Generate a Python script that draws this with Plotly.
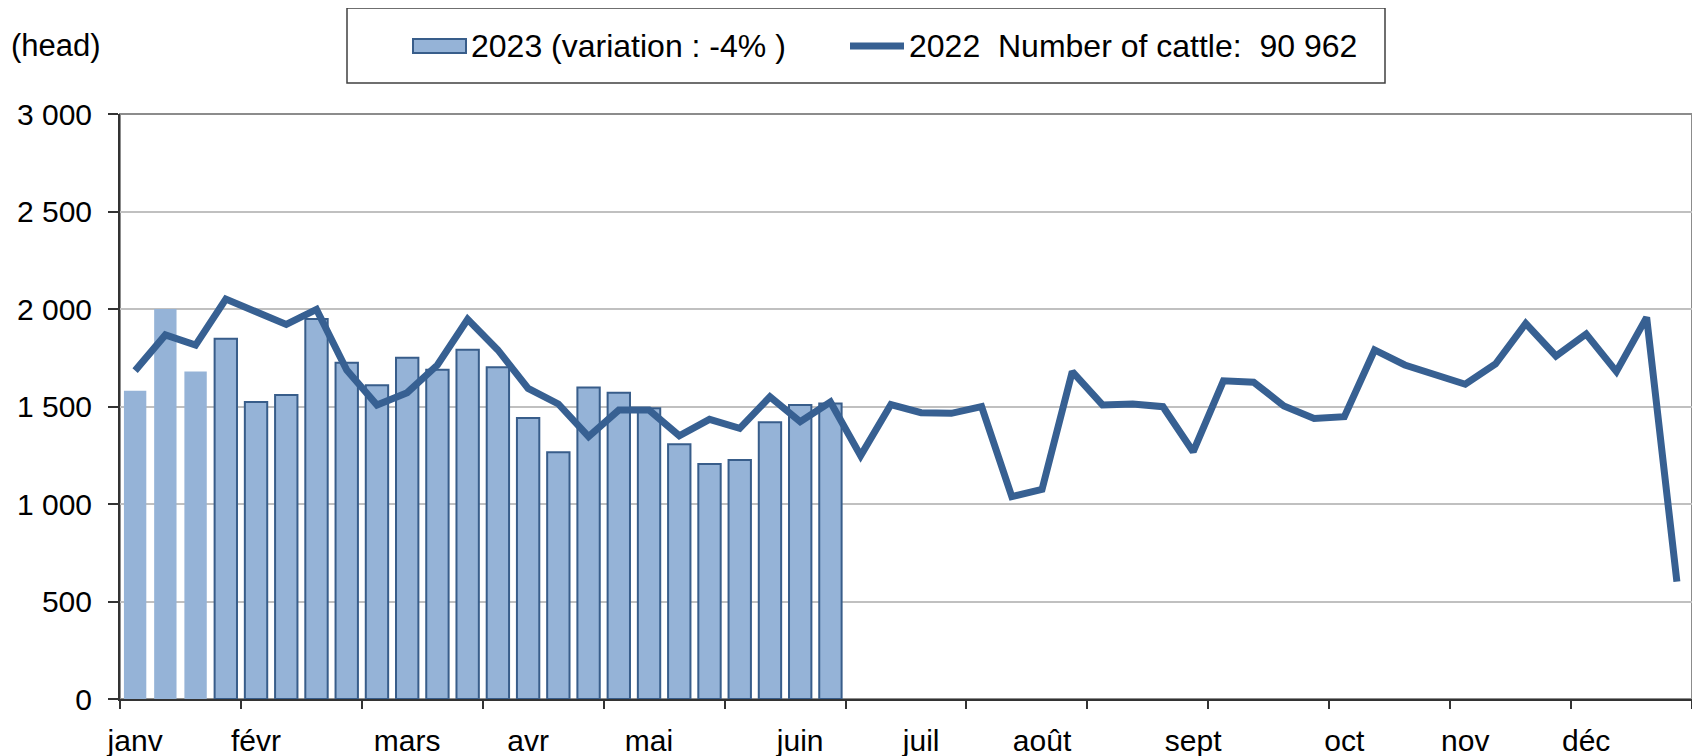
import plotly.graph_objects as go

# ---- data ----
weeks_2022 = list(range(1, 53))
cattle_2022 = [1684, 1867, 1815, 2051, 1986, 1921, 1998, 1687, 1508, 1571,
               1713, 1947, 1790, 1593, 1513, 1345, 1482, 1482, 1350, 1434,
               1388, 1550, 1422, 1523, 1248, 1510, 1468, 1465, 1499, 1038,
               1075, 1679, 1508, 1513, 1499, 1268, 1632, 1625, 1503, 1439,
               1448, 1790, 1713, 1662, 1614, 1718, 1926, 1759, 1872, 1679,
               1957, 602]
weeks_2023 = list(range(1, 25))
cattle_2023 = [1581, 2000, 1680, 1848, 1523, 1559, 1949, 1725, 1609, 1750,
               1689, 1791, 1701, 1441, 1265, 1597, 1571, 1491, 1306, 1205,
               1226, 1419, 1508, 1516]
month_weeks = [1, 5, 10, 14, 18, 23, 27, 31, 36, 41, 45, 49]
month_labels = ["janv", "févr", "mars", "avr", "mai", "juin",
                "juil", "août", "sept", "oct", "nov", "déc"]
y_ticks = [0, 500, 1000, 1500, 2000, 2500, 3000]
y_tick_labels = ["0", "500", "1 000", "1 500", "2 000", "2 500", "3 000"]
legend_2023 = "2023 (variation : -4% )"
legend_2022 = "2022  Number of cattle:  90 962"
unit_label = "(head)"

# ---- style ----
OFF = 8  # default page body margin
W, H = 1700 - OFF, 756 - OFF
ML, MR, MT, MB = 120 - OFF, 8, 114 - OFF, 57
PW, PH = W - ML - MR, H - MT - MB
FONT = "Liberation Sans, Arial, sans-serif"
BAR_FILL = "#95B3D7"
BAR_LINE = "#385D8A"
LINE_COL = "#376092"
n_light = 3

def px_x(px):
    return (px - OFF - ML) / PW

def px_y(py):
    return (H - MB - (py - OFF)) / PH

fig = go.Figure()
fig.add_trace(go.Bar(
    x=weeks_2023, y=cattle_2023, width=0.74,
    marker=dict(color=BAR_FILL,
                line=dict(color=BAR_LINE,
                          width=[0 if i < n_light else 2 for i in range(len(cattle_2023))])),
    name=legend_2023, showlegend=False,
))
fig.add_trace(go.Scatter(
    x=weeks_2022, y=cattle_2022, mode="lines",
    line=dict(color=LINE_COL, width=7),
    name=legend_2022, showlegend=False,
))

shapes = [
    # plot area border
    dict(type="rect", xref="paper", yref="paper", x0=0, x1=1, y0=0, y1=1,
         line=dict(color="#8c8c8c", width=2), layer="between"),
    # legend box
    dict(type="rect", xref="paper", yref="paper",
         x0=px_x(347), x1=px_x(1385), y0=px_y(83), y1=px_y(8),
         line=dict(color="#404040", width=1.5), fillcolor="white"),
    # legend bar symbol
    dict(type="rect", xref="paper", yref="paper",
         x0=px_x(413), x1=px_x(466), y0=px_y(53), y1=px_y(39),
         line=dict(color=BAR_LINE, width=2), fillcolor=BAR_FILL),
    # legend line symbol
    dict(type="line", xref="paper", yref="paper",
         x0=px_x(850), x1=px_x(904), y0=px_y(46), y1=px_y(46),
         line=dict(color=LINE_COL, width=7)),
]

annotations = [
    dict(text=legend_2023, xref="paper", yref="paper", x=px_x(469), y=px_y(46),
         xanchor="left", yanchor="middle", showarrow=False,
         font=dict(family=FONT, size=32, color="black")),
    dict(text=legend_2022, xref="paper", yref="paper", x=px_x(907), y=px_y(46),
         xanchor="left", yanchor="middle", showarrow=False,
         font=dict(family=FONT, size=32, color="black")),
    dict(text=unit_label, xref="paper", yref="paper", x=px_x(9), y=px_y(46),
         xanchor="left", yanchor="middle", showarrow=False,
         font=dict(family=FONT, size=31, color="black")),
]

fig.update_layout(
    width=W, height=H,
    margin=dict(l=ML, r=MR, t=MT, b=MB, pad=0),
    paper_bgcolor="white", plot_bgcolor="white",
    font=dict(family=FONT, size=30, color="black"),
    shapes=shapes, annotations=annotations,
    showlegend=False,
)
fig.update_xaxes(
    range=[0.5, 52.5], tickmode="array", tickvals=month_weeks, ticktext=month_labels,
    ticks="", showgrid=False, zeroline=False, automargin=False,
    showline=True, linecolor="#333333", linewidth=2,
    ticklabelstandoff=14,
    minor=dict(tickmode="linear", tick0=0.5, dtick=4, ticks="outside",
               ticklen=8, tickwidth=1.5, tickcolor="#333333", showgrid=False),
    tickfont=dict(family=FONT, size=30, color="black"),
)
fig.update_yaxes(
    range=[0, 3000], tickmode="array", tickvals=y_ticks, ticktext=y_tick_labels,
    ticks="outside", ticklen=10, tickwidth=1.5, tickcolor="#333333",
    showgrid=True, gridcolor="#c0c0c0", gridwidth=2, zeroline=False, automargin=False,
    showline=True, linecolor="#333333", linewidth=2,
    ticklabelstandoff=10,
    tickfont=dict(family=FONT, size=30, color="black"),
)

fig.write_html("out.html")
